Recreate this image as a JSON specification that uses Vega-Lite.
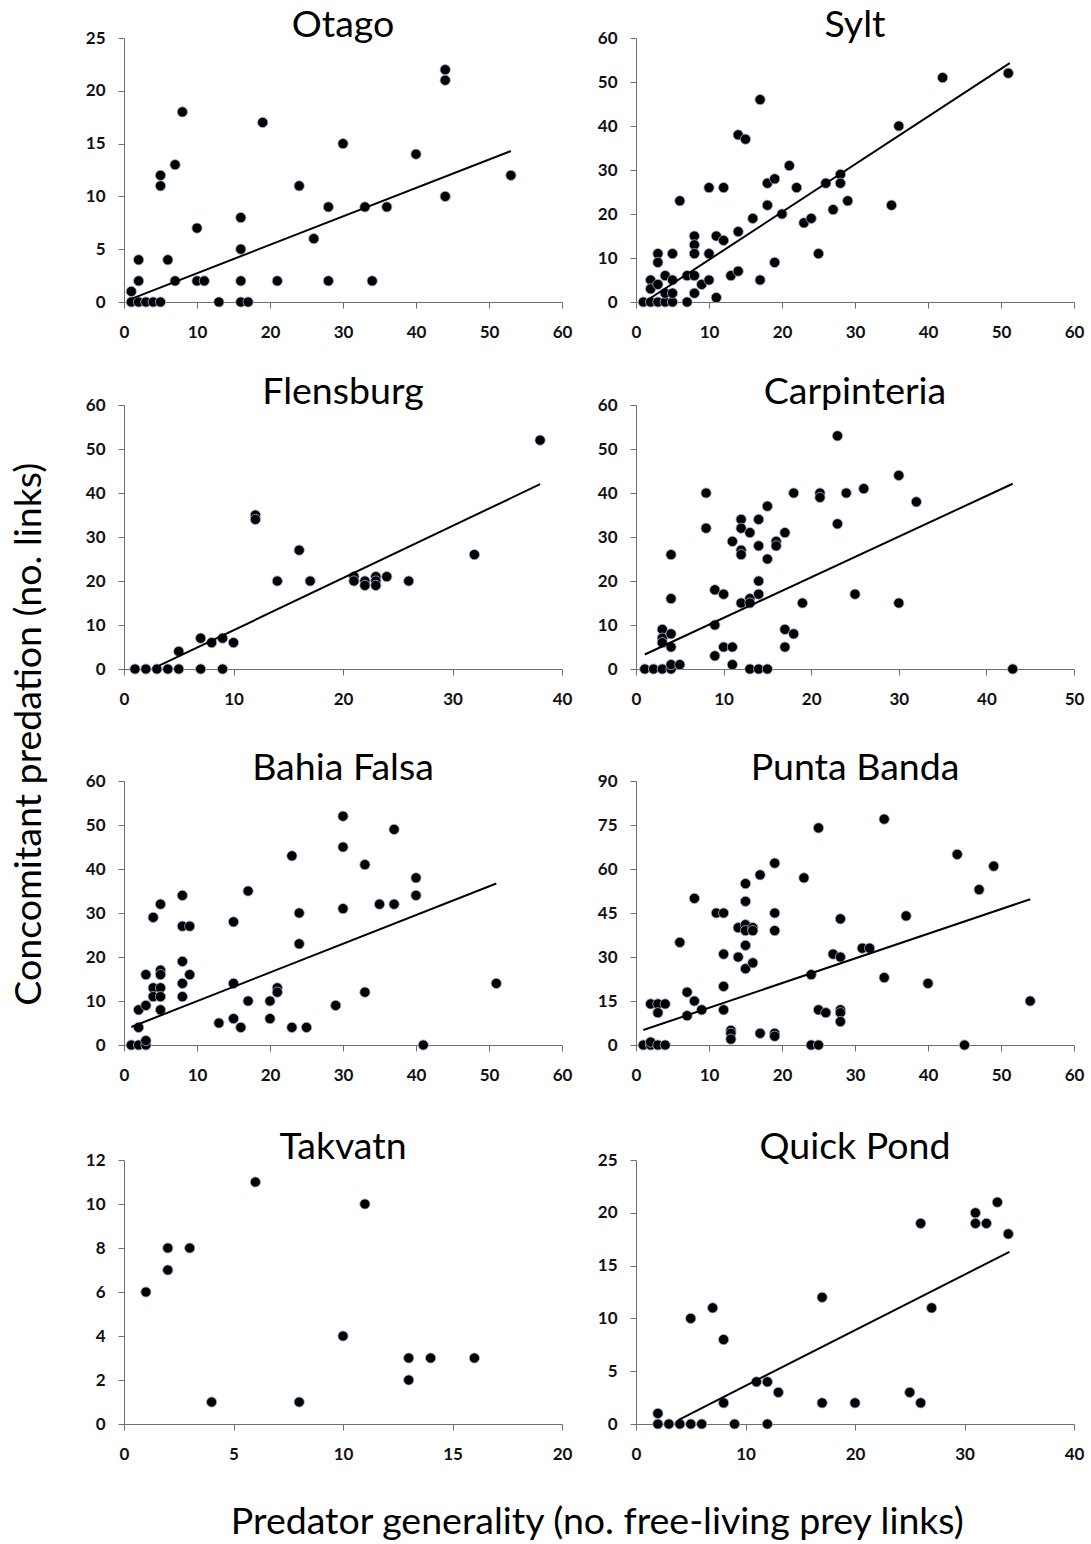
{
"$schema": "https://vega.github.io/schema/vega-lite/v6.json",
"background": "white",
"padding": {"left": 10, "top": 6, "right": 8, "bottom": 6},
"config": {
  "view": {"stroke": null},
  "axis": {"grid": false, "domainColor": "#6e6e6e", "tickColor": "#6e6e6e", "labelFont": "Lato", "labelFontSize": 17, "labelFontWeight": "bold", "labelColor": "#111", "labelFlush": false, "labelOverlap": false, "tickSize": 6, "title": null},
  "axisX": {"labelPadding": 16},
  "axisY": {"labelPadding": 13},
  "title": {"font": "Lato", "fontSize": 37.5, "fontWeight": "normal", "color": "#000", "anchor": "middle", "baseline": "alphabetic", "offset": -15}
},
"datasets": {
  "pts": [
    {"site":"Otago","gen":1,"pred":1},{"site":"Otago","gen":1,"pred":0},{"site":"Otago","gen":2,"pred":0},{"site":"Otago","gen":3,"pred":0},{"site":"Otago","gen":4,"pred":0},{"site":"Otago","gen":5,"pred":0},{"site":"Otago","gen":2,"pred":2},{"site":"Otago","gen":2,"pred":4},{"site":"Otago","gen":5,"pred":12},{"site":"Otago","gen":5,"pred":11},{"site":"Otago","gen":6,"pred":4},{"site":"Otago","gen":7,"pred":13},{"site":"Otago","gen":7,"pred":2},{"site":"Otago","gen":8,"pred":18},{"site":"Otago","gen":10,"pred":7},{"site":"Otago","gen":10,"pred":2},{"site":"Otago","gen":11,"pred":2},{"site":"Otago","gen":13,"pred":0},{"site":"Otago","gen":16,"pred":8},{"site":"Otago","gen":16,"pred":5},{"site":"Otago","gen":16,"pred":2},{"site":"Otago","gen":16,"pred":0},{"site":"Otago","gen":17,"pred":0},{"site":"Otago","gen":19,"pred":17},{"site":"Otago","gen":21,"pred":2},{"site":"Otago","gen":24,"pred":11},{"site":"Otago","gen":26,"pred":6},{"site":"Otago","gen":28,"pred":9},{"site":"Otago","gen":28,"pred":2},{"site":"Otago","gen":30,"pred":15},{"site":"Otago","gen":33,"pred":9},{"site":"Otago","gen":34,"pred":2},{"site":"Otago","gen":36,"pred":9},{"site":"Otago","gen":40,"pred":14},{"site":"Otago","gen":44,"pred":22},{"site":"Otago","gen":44,"pred":21},{"site":"Otago","gen":44,"pred":10},{"site":"Otago","gen":53,"pred":12},
    {"site":"Sylt","gen":1,"pred":0},{"site":"Sylt","gen":2,"pred":0},{"site":"Sylt","gen":3,"pred":0},{"site":"Sylt","gen":4,"pred":0},{"site":"Sylt","gen":5,"pred":0},{"site":"Sylt","gen":7,"pred":0},{"site":"Sylt","gen":2,"pred":5},{"site":"Sylt","gen":2,"pred":3},{"site":"Sylt","gen":3,"pred":4},{"site":"Sylt","gen":3,"pred":11},{"site":"Sylt","gen":3,"pred":9},{"site":"Sylt","gen":4,"pred":6},{"site":"Sylt","gen":4,"pred":2},{"site":"Sylt","gen":5,"pred":5},{"site":"Sylt","gen":5,"pred":2},{"site":"Sylt","gen":5,"pred":11},{"site":"Sylt","gen":6,"pred":23},{"site":"Sylt","gen":7,"pred":6},{"site":"Sylt","gen":8,"pred":6},{"site":"Sylt","gen":8,"pred":2},{"site":"Sylt","gen":8,"pred":15},{"site":"Sylt","gen":8,"pred":13},{"site":"Sylt","gen":8,"pred":11},{"site":"Sylt","gen":9,"pred":4},{"site":"Sylt","gen":10,"pred":26},{"site":"Sylt","gen":10,"pred":11},{"site":"Sylt","gen":10,"pred":5},{"site":"Sylt","gen":11,"pred":15},{"site":"Sylt","gen":11,"pred":1},{"site":"Sylt","gen":12,"pred":26},{"site":"Sylt","gen":12,"pred":14},{"site":"Sylt","gen":13,"pred":6},{"site":"Sylt","gen":14,"pred":38},{"site":"Sylt","gen":14,"pred":16},{"site":"Sylt","gen":14,"pred":7},{"site":"Sylt","gen":15,"pred":37},{"site":"Sylt","gen":16,"pred":19},{"site":"Sylt","gen":17,"pred":46},{"site":"Sylt","gen":17,"pred":5},{"site":"Sylt","gen":18,"pred":27},{"site":"Sylt","gen":18,"pred":22},{"site":"Sylt","gen":19,"pred":28},{"site":"Sylt","gen":19,"pred":9},{"site":"Sylt","gen":20,"pred":20},{"site":"Sylt","gen":21,"pred":31},{"site":"Sylt","gen":22,"pred":26},{"site":"Sylt","gen":23,"pred":18},{"site":"Sylt","gen":24,"pred":19},{"site":"Sylt","gen":25,"pred":11},{"site":"Sylt","gen":26,"pred":27},{"site":"Sylt","gen":27,"pred":21},{"site":"Sylt","gen":28,"pred":29},{"site":"Sylt","gen":28,"pred":27},{"site":"Sylt","gen":29,"pred":23},{"site":"Sylt","gen":35,"pred":22},{"site":"Sylt","gen":36,"pred":40},{"site":"Sylt","gen":42,"pred":51},{"site":"Sylt","gen":51,"pred":52},
    {"site":"Flensburg","gen":1,"pred":0},{"site":"Flensburg","gen":2,"pred":0},{"site":"Flensburg","gen":3,"pred":0},{"site":"Flensburg","gen":4,"pred":0},{"site":"Flensburg","gen":5,"pred":0},{"site":"Flensburg","gen":7,"pred":0},{"site":"Flensburg","gen":9,"pred":0},{"site":"Flensburg","gen":5,"pred":4},{"site":"Flensburg","gen":7,"pred":7},{"site":"Flensburg","gen":8,"pred":6},{"site":"Flensburg","gen":9,"pred":7},{"site":"Flensburg","gen":10,"pred":6},{"site":"Flensburg","gen":12,"pred":35},{"site":"Flensburg","gen":12,"pred":34},{"site":"Flensburg","gen":14,"pred":20},{"site":"Flensburg","gen":16,"pred":27},{"site":"Flensburg","gen":17,"pred":20},{"site":"Flensburg","gen":21,"pred":21},{"site":"Flensburg","gen":21,"pred":20},{"site":"Flensburg","gen":22,"pred":20},{"site":"Flensburg","gen":22,"pred":19},{"site":"Flensburg","gen":23,"pred":21},{"site":"Flensburg","gen":23,"pred":20},{"site":"Flensburg","gen":23,"pred":19},{"site":"Flensburg","gen":24,"pred":21},{"site":"Flensburg","gen":26,"pred":20},{"site":"Flensburg","gen":32,"pred":26},{"site":"Flensburg","gen":38,"pred":52},
    {"site":"Carpinteria","gen":1,"pred":0},{"site":"Carpinteria","gen":2,"pred":0},{"site":"Carpinteria","gen":3,"pred":0},{"site":"Carpinteria","gen":4,"pred":0},{"site":"Carpinteria","gen":4,"pred":1},{"site":"Carpinteria","gen":5,"pred":1},{"site":"Carpinteria","gen":3,"pred":9},{"site":"Carpinteria","gen":3,"pred":7},{"site":"Carpinteria","gen":3,"pred":6},{"site":"Carpinteria","gen":4,"pred":8},{"site":"Carpinteria","gen":4,"pred":5},{"site":"Carpinteria","gen":4,"pred":16},{"site":"Carpinteria","gen":4,"pred":26},{"site":"Carpinteria","gen":8,"pred":40},{"site":"Carpinteria","gen":8,"pred":32},{"site":"Carpinteria","gen":9,"pred":18},{"site":"Carpinteria","gen":9,"pred":10},{"site":"Carpinteria","gen":9,"pred":3},{"site":"Carpinteria","gen":10,"pred":17},{"site":"Carpinteria","gen":10,"pred":5},{"site":"Carpinteria","gen":11,"pred":29},{"site":"Carpinteria","gen":11,"pred":5},{"site":"Carpinteria","gen":11,"pred":1},{"site":"Carpinteria","gen":12,"pred":34},{"site":"Carpinteria","gen":12,"pred":32},{"site":"Carpinteria","gen":12,"pred":27},{"site":"Carpinteria","gen":12,"pred":26},{"site":"Carpinteria","gen":12,"pred":15},{"site":"Carpinteria","gen":13,"pred":31},{"site":"Carpinteria","gen":13,"pred":16},{"site":"Carpinteria","gen":13,"pred":15},{"site":"Carpinteria","gen":13,"pred":0},{"site":"Carpinteria","gen":14,"pred":34},{"site":"Carpinteria","gen":14,"pred":28},{"site":"Carpinteria","gen":14,"pred":20},{"site":"Carpinteria","gen":14,"pred":17},{"site":"Carpinteria","gen":14,"pred":0},{"site":"Carpinteria","gen":15,"pred":37},{"site":"Carpinteria","gen":15,"pred":25},{"site":"Carpinteria","gen":15,"pred":0},{"site":"Carpinteria","gen":16,"pred":29},{"site":"Carpinteria","gen":16,"pred":28},{"site":"Carpinteria","gen":17,"pred":31},{"site":"Carpinteria","gen":17,"pred":9},{"site":"Carpinteria","gen":17,"pred":5},{"site":"Carpinteria","gen":18,"pred":40},{"site":"Carpinteria","gen":18,"pred":8},{"site":"Carpinteria","gen":19,"pred":15},{"site":"Carpinteria","gen":21,"pred":40},{"site":"Carpinteria","gen":21,"pred":39},{"site":"Carpinteria","gen":23,"pred":53},{"site":"Carpinteria","gen":23,"pred":33},{"site":"Carpinteria","gen":24,"pred":40},{"site":"Carpinteria","gen":25,"pred":17},{"site":"Carpinteria","gen":26,"pred":41},{"site":"Carpinteria","gen":30,"pred":44},{"site":"Carpinteria","gen":30,"pred":15},{"site":"Carpinteria","gen":32,"pred":38},{"site":"Carpinteria","gen":43,"pred":0},
    {"site":"Bahia Falsa","gen":1,"pred":0},{"site":"Bahia Falsa","gen":2,"pred":0},{"site":"Bahia Falsa","gen":3,"pred":0},{"site":"Bahia Falsa","gen":3,"pred":1},{"site":"Bahia Falsa","gen":2,"pred":4},{"site":"Bahia Falsa","gen":2,"pred":8},{"site":"Bahia Falsa","gen":3,"pred":9},{"site":"Bahia Falsa","gen":3,"pred":16},{"site":"Bahia Falsa","gen":4,"pred":13},{"site":"Bahia Falsa","gen":4,"pred":11},{"site":"Bahia Falsa","gen":4,"pred":29},{"site":"Bahia Falsa","gen":5,"pred":32},{"site":"Bahia Falsa","gen":5,"pred":17},{"site":"Bahia Falsa","gen":5,"pred":16},{"site":"Bahia Falsa","gen":5,"pred":13},{"site":"Bahia Falsa","gen":5,"pred":11},{"site":"Bahia Falsa","gen":5,"pred":8},{"site":"Bahia Falsa","gen":8,"pred":34},{"site":"Bahia Falsa","gen":8,"pred":27},{"site":"Bahia Falsa","gen":8,"pred":19},{"site":"Bahia Falsa","gen":8,"pred":14},{"site":"Bahia Falsa","gen":8,"pred":11},{"site":"Bahia Falsa","gen":9,"pred":27},{"site":"Bahia Falsa","gen":9,"pred":16},{"site":"Bahia Falsa","gen":13,"pred":5},{"site":"Bahia Falsa","gen":15,"pred":28},{"site":"Bahia Falsa","gen":15,"pred":14},{"site":"Bahia Falsa","gen":15,"pred":6},{"site":"Bahia Falsa","gen":16,"pred":4},{"site":"Bahia Falsa","gen":17,"pred":35},{"site":"Bahia Falsa","gen":17,"pred":10},{"site":"Bahia Falsa","gen":20,"pred":10},{"site":"Bahia Falsa","gen":20,"pred":6},{"site":"Bahia Falsa","gen":21,"pred":13},{"site":"Bahia Falsa","gen":21,"pred":12},{"site":"Bahia Falsa","gen":23,"pred":43},{"site":"Bahia Falsa","gen":23,"pred":4},{"site":"Bahia Falsa","gen":24,"pred":30},{"site":"Bahia Falsa","gen":24,"pred":23},{"site":"Bahia Falsa","gen":25,"pred":4},{"site":"Bahia Falsa","gen":29,"pred":9},{"site":"Bahia Falsa","gen":30,"pred":52},{"site":"Bahia Falsa","gen":30,"pred":45},{"site":"Bahia Falsa","gen":30,"pred":31},{"site":"Bahia Falsa","gen":33,"pred":41},{"site":"Bahia Falsa","gen":33,"pred":12},{"site":"Bahia Falsa","gen":35,"pred":32},{"site":"Bahia Falsa","gen":37,"pred":49},{"site":"Bahia Falsa","gen":37,"pred":32},{"site":"Bahia Falsa","gen":40,"pred":38},{"site":"Bahia Falsa","gen":40,"pred":34},{"site":"Bahia Falsa","gen":41,"pred":0},{"site":"Bahia Falsa","gen":51,"pred":14},
    {"site":"Punta Banda","gen":1,"pred":0},{"site":"Punta Banda","gen":2,"pred":0},{"site":"Punta Banda","gen":2,"pred":1},{"site":"Punta Banda","gen":3,"pred":0},{"site":"Punta Banda","gen":4,"pred":0},{"site":"Punta Banda","gen":2,"pred":14},{"site":"Punta Banda","gen":3,"pred":14},{"site":"Punta Banda","gen":3,"pred":11},{"site":"Punta Banda","gen":4,"pred":14},{"site":"Punta Banda","gen":6,"pred":35},{"site":"Punta Banda","gen":7,"pred":18},{"site":"Punta Banda","gen":7,"pred":10},{"site":"Punta Banda","gen":8,"pred":50},{"site":"Punta Banda","gen":8,"pred":15},{"site":"Punta Banda","gen":9,"pred":12},{"site":"Punta Banda","gen":11,"pred":45},{"site":"Punta Banda","gen":12,"pred":45},{"site":"Punta Banda","gen":12,"pred":31},{"site":"Punta Banda","gen":12,"pred":20},{"site":"Punta Banda","gen":12,"pred":12},{"site":"Punta Banda","gen":13,"pred":5},{"site":"Punta Banda","gen":13,"pred":4},{"site":"Punta Banda","gen":13,"pred":2},{"site":"Punta Banda","gen":14,"pred":40},{"site":"Punta Banda","gen":14,"pred":30},{"site":"Punta Banda","gen":15,"pred":55},{"site":"Punta Banda","gen":15,"pred":49},{"site":"Punta Banda","gen":15,"pred":41},{"site":"Punta Banda","gen":15,"pred":39},{"site":"Punta Banda","gen":15,"pred":34},{"site":"Punta Banda","gen":15,"pred":26},{"site":"Punta Banda","gen":16,"pred":40},{"site":"Punta Banda","gen":16,"pred":39},{"site":"Punta Banda","gen":16,"pred":28},{"site":"Punta Banda","gen":17,"pred":58},{"site":"Punta Banda","gen":17,"pred":4},{"site":"Punta Banda","gen":19,"pred":62},{"site":"Punta Banda","gen":19,"pred":45},{"site":"Punta Banda","gen":19,"pred":39},{"site":"Punta Banda","gen":19,"pred":4},{"site":"Punta Banda","gen":19,"pred":3},{"site":"Punta Banda","gen":23,"pred":57},{"site":"Punta Banda","gen":24,"pred":24},{"site":"Punta Banda","gen":24,"pred":0},{"site":"Punta Banda","gen":25,"pred":74},{"site":"Punta Banda","gen":25,"pred":12},{"site":"Punta Banda","gen":25,"pred":0},{"site":"Punta Banda","gen":26,"pred":11},{"site":"Punta Banda","gen":27,"pred":31},{"site":"Punta Banda","gen":28,"pred":43},{"site":"Punta Banda","gen":28,"pred":30},{"site":"Punta Banda","gen":28,"pred":12},{"site":"Punta Banda","gen":28,"pred":11},{"site":"Punta Banda","gen":28,"pred":8},{"site":"Punta Banda","gen":31,"pred":33},{"site":"Punta Banda","gen":32,"pred":33},{"site":"Punta Banda","gen":34,"pred":77},{"site":"Punta Banda","gen":34,"pred":23},{"site":"Punta Banda","gen":37,"pred":44},{"site":"Punta Banda","gen":40,"pred":21},{"site":"Punta Banda","gen":44,"pred":65},{"site":"Punta Banda","gen":45,"pred":0},{"site":"Punta Banda","gen":47,"pred":53},{"site":"Punta Banda","gen":49,"pred":61},{"site":"Punta Banda","gen":54,"pred":15},
    {"site":"Takvatn","gen":1,"pred":6},{"site":"Takvatn","gen":2,"pred":8},{"site":"Takvatn","gen":2,"pred":7},{"site":"Takvatn","gen":3,"pred":8},{"site":"Takvatn","gen":4,"pred":1},{"site":"Takvatn","gen":6,"pred":11},{"site":"Takvatn","gen":8,"pred":1},{"site":"Takvatn","gen":10,"pred":4},{"site":"Takvatn","gen":11,"pred":10},{"site":"Takvatn","gen":13,"pred":3},{"site":"Takvatn","gen":13,"pred":2},{"site":"Takvatn","gen":14,"pred":3},{"site":"Takvatn","gen":16,"pred":3},
    {"site":"Quick Pond","gen":2,"pred":1},{"site":"Quick Pond","gen":2,"pred":0},{"site":"Quick Pond","gen":3,"pred":0},{"site":"Quick Pond","gen":4,"pred":0},{"site":"Quick Pond","gen":5,"pred":0},{"site":"Quick Pond","gen":6,"pred":0},{"site":"Quick Pond","gen":9,"pred":0},{"site":"Quick Pond","gen":12,"pred":0},{"site":"Quick Pond","gen":5,"pred":10},{"site":"Quick Pond","gen":7,"pred":11},{"site":"Quick Pond","gen":8,"pred":8},{"site":"Quick Pond","gen":8,"pred":2},{"site":"Quick Pond","gen":11,"pred":4},{"site":"Quick Pond","gen":12,"pred":4},{"site":"Quick Pond","gen":13,"pred":3},{"site":"Quick Pond","gen":17,"pred":12},{"site":"Quick Pond","gen":17,"pred":2},{"site":"Quick Pond","gen":20,"pred":2},{"site":"Quick Pond","gen":25,"pred":3},{"site":"Quick Pond","gen":26,"pred":19},{"site":"Quick Pond","gen":26,"pred":2},{"site":"Quick Pond","gen":27,"pred":11},{"site":"Quick Pond","gen":31,"pred":20},{"site":"Quick Pond","gen":31,"pred":19},{"site":"Quick Pond","gen":32,"pred":19},{"site":"Quick Pond","gen":33,"pred":21},{"site":"Quick Pond","gen":34,"pred":18}
  ],
  "fits": [
    {"site":"Otago","gen":1,"pred":0.3},{"site":"Otago","gen":53,"pred":14.3},
    {"site":"Sylt","gen":1.9,"pred":0.8},{"site":"Sylt","gen":51.2,"pred":54.3},
    {"site":"Flensburg","gen":3.2,"pred":0.75},{"site":"Flensburg","gen":38,"pred":42},
    {"site":"Carpinteria","gen":1,"pred":3.3},{"site":"Carpinteria","gen":43,"pred":42.1},
    {"site":"Bahia Falsa","gen":1,"pred":4.1},{"site":"Bahia Falsa","gen":51,"pred":36.7},
    {"site":"Punta Banda","gen":1,"pred":5.1},{"site":"Punta Banda","gen":54,"pred":49.7},
    {"site":"Quick Pond","gen":3.9,"pred":0.4},{"site":"Quick Pond","gen":34.1,"pred":16.3}
  ]
},
"title": {"text": "Predator generality (no. free-living prey links)", "orient": "bottom", "fontSize": 37.5, "offset": 42, "baseline": "top", "dx": 50},
"vconcat": [{
  "title": {"text": "Concomitant predation (no. links)", "orient": "left", "fontSize": 37.5, "offset": -1, "baseline": "bottom"},
  "spacing": 42,
  "vconcat": [
  {
  "columns": 2,
  "spacing": {"row": 33, "column": 25},
  "concat": [
    {"title": "Otago", "width": 438, "height": 264, "layer": [
      {"data": {"name": "pts"}, "transform": [{"filter": "datum.site === 'Otago'"}], "mark": {"type": "circle", "size": 105, "fill": "#000", "stroke": "#9db8dc", "strokeWidth": 0.8, "opacity": 1},
       "encoding": {"x": {"field": "gen", "type": "quantitative", "scale": {"domain": [0, 60], "nice": false}, "axis": {"values": [0,10,20,30,40,50,60]}}, "y": {"field": "pred", "type": "quantitative", "scale": {"domain": [0, 25], "nice": false}, "axis": {"values": [0,5,10,15,20,25]}}}},
      {"data": {"name": "fits"}, "transform": [{"filter": "datum.site === 'Otago'"}], "mark": {"type": "line", "color": "#000", "strokeWidth": 2},
       "encoding": {"x": {"field": "gen", "type": "quantitative"}, "y": {"field": "pred", "type": "quantitative"}}}
    ]},
    {"title": "Sylt", "width": 438, "height": 264, "layer": [
      {"data": {"name": "pts"}, "transform": [{"filter": "datum.site === 'Sylt'"}], "mark": {"type": "circle", "size": 105, "fill": "#000", "stroke": "#9db8dc", "strokeWidth": 0.8, "opacity": 1},
       "encoding": {"x": {"field": "gen", "type": "quantitative", "scale": {"domain": [0, 60], "nice": false}, "axis": {"values": [0,10,20,30,40,50,60]}}, "y": {"field": "pred", "type": "quantitative", "scale": {"domain": [0, 60], "nice": false}, "axis": {"values": [0,10,20,30,40,50,60]}}}},
      {"data": {"name": "fits"}, "transform": [{"filter": "datum.site === 'Sylt'"}], "mark": {"type": "line", "color": "#000", "strokeWidth": 2},
       "encoding": {"x": {"field": "gen", "type": "quantitative"}, "y": {"field": "pred", "type": "quantitative"}}}
    ]},
    {"title": "Flensburg", "width": 438, "height": 264, "layer": [
      {"data": {"name": "pts"}, "transform": [{"filter": "datum.site === 'Flensburg'"}], "mark": {"type": "circle", "size": 105, "fill": "#000", "stroke": "#9db8dc", "strokeWidth": 0.8, "opacity": 1},
       "encoding": {"x": {"field": "gen", "type": "quantitative", "scale": {"domain": [0, 40], "nice": false}, "axis": {"values": [0,10,20,30,40]}}, "y": {"field": "pred", "type": "quantitative", "scale": {"domain": [0, 60], "nice": false}, "axis": {"values": [0,10,20,30,40,50,60]}}}},
      {"data": {"name": "fits"}, "transform": [{"filter": "datum.site === 'Flensburg'"}], "mark": {"type": "line", "color": "#000", "strokeWidth": 2},
       "encoding": {"x": {"field": "gen", "type": "quantitative"}, "y": {"field": "pred", "type": "quantitative"}}}
    ]},
    {"title": "Carpinteria", "width": 438, "height": 264, "layer": [
      {"data": {"name": "pts"}, "transform": [{"filter": "datum.site === 'Carpinteria'"}], "mark": {"type": "circle", "size": 105, "fill": "#000", "stroke": "#9db8dc", "strokeWidth": 0.8, "opacity": 1},
       "encoding": {"x": {"field": "gen", "type": "quantitative", "scale": {"domain": [0, 50], "nice": false}, "axis": {"values": [0,10,20,30,40,50]}}, "y": {"field": "pred", "type": "quantitative", "scale": {"domain": [0, 60], "nice": false}, "axis": {"values": [0,10,20,30,40,50,60]}}}},
      {"data": {"name": "fits"}, "transform": [{"filter": "datum.site === 'Carpinteria'"}], "mark": {"type": "line", "color": "#000", "strokeWidth": 2},
       "encoding": {"x": {"field": "gen", "type": "quantitative"}, "y": {"field": "pred", "type": "quantitative"}}}
    ]}
  ]},
  {
  "columns": 2,
  "spacing": {"row": 45, "column": 25},
  "concat": [
    {"title": "Bahia Falsa", "width": 438, "height": 264, "layer": [
      {"data": {"name": "pts"}, "transform": [{"filter": "datum.site === 'Bahia Falsa'"}], "mark": {"type": "circle", "size": 105, "fill": "#000", "stroke": "#9db8dc", "strokeWidth": 0.8, "opacity": 1},
       "encoding": {"x": {"field": "gen", "type": "quantitative", "scale": {"domain": [0, 60], "nice": false}, "axis": {"values": [0,10,20,30,40,50,60]}}, "y": {"field": "pred", "type": "quantitative", "scale": {"domain": [0, 60], "nice": false}, "axis": {"values": [0,10,20,30,40,50,60]}}}},
      {"data": {"name": "fits"}, "transform": [{"filter": "datum.site === 'Bahia Falsa'"}], "mark": {"type": "line", "color": "#000", "strokeWidth": 2},
       "encoding": {"x": {"field": "gen", "type": "quantitative"}, "y": {"field": "pred", "type": "quantitative"}}}
    ]},
    {"title": "Punta Banda", "width": 438, "height": 264, "layer": [
      {"data": {"name": "pts"}, "transform": [{"filter": "datum.site === 'Punta Banda'"}], "mark": {"type": "circle", "size": 105, "fill": "#000", "stroke": "#9db8dc", "strokeWidth": 0.8, "opacity": 1},
       "encoding": {"x": {"field": "gen", "type": "quantitative", "scale": {"domain": [0, 60], "nice": false}, "axis": {"values": [0,10,20,30,40,50,60]}}, "y": {"field": "pred", "type": "quantitative", "scale": {"domain": [0, 90], "nice": false}, "axis": {"values": [0,15,30,45,60,75,90]}}}},
      {"data": {"name": "fits"}, "transform": [{"filter": "datum.site === 'Punta Banda'"}], "mark": {"type": "line", "color": "#000", "strokeWidth": 2},
       "encoding": {"x": {"field": "gen", "type": "quantitative"}, "y": {"field": "pred", "type": "quantitative"}}}
    ]},
    {"title": "Takvatn", "width": 438, "height": 264, "layer": [
      {"data": {"name": "pts"}, "transform": [{"filter": "datum.site === 'Takvatn'"}], "mark": {"type": "circle", "size": 105, "fill": "#000", "stroke": "#9db8dc", "strokeWidth": 0.8, "opacity": 1},
       "encoding": {"x": {"field": "gen", "type": "quantitative", "scale": {"domain": [0, 20], "nice": false}, "axis": {"values": [0,5,10,15,20]}}, "y": {"field": "pred", "type": "quantitative", "scale": {"domain": [0, 12], "nice": false}, "axis": {"values": [0,2,4,6,8,10,12]}}}}
    ]},
    {"title": "Quick Pond", "width": 438, "height": 264, "layer": [
      {"data": {"name": "pts"}, "transform": [{"filter": "datum.site === 'Quick Pond'"}], "mark": {"type": "circle", "size": 105, "fill": "#000", "stroke": "#9db8dc", "strokeWidth": 0.8, "opacity": 1},
       "encoding": {"x": {"field": "gen", "type": "quantitative", "scale": {"domain": [0, 40], "nice": false}, "axis": {"values": [0,10,20,30,40]}}, "y": {"field": "pred", "type": "quantitative", "scale": {"domain": [0, 25], "nice": false}, "axis": {"values": [0,5,10,15,20,25]}}}},
      {"data": {"name": "fits"}, "transform": [{"filter": "datum.site === 'Quick Pond'"}], "mark": {"type": "line", "color": "#000", "strokeWidth": 2},
       "encoding": {"x": {"field": "gen", "type": "quantitative"}, "y": {"field": "pred", "type": "quantitative"}}}
    ]}
  ]}
  ]
}]
}
